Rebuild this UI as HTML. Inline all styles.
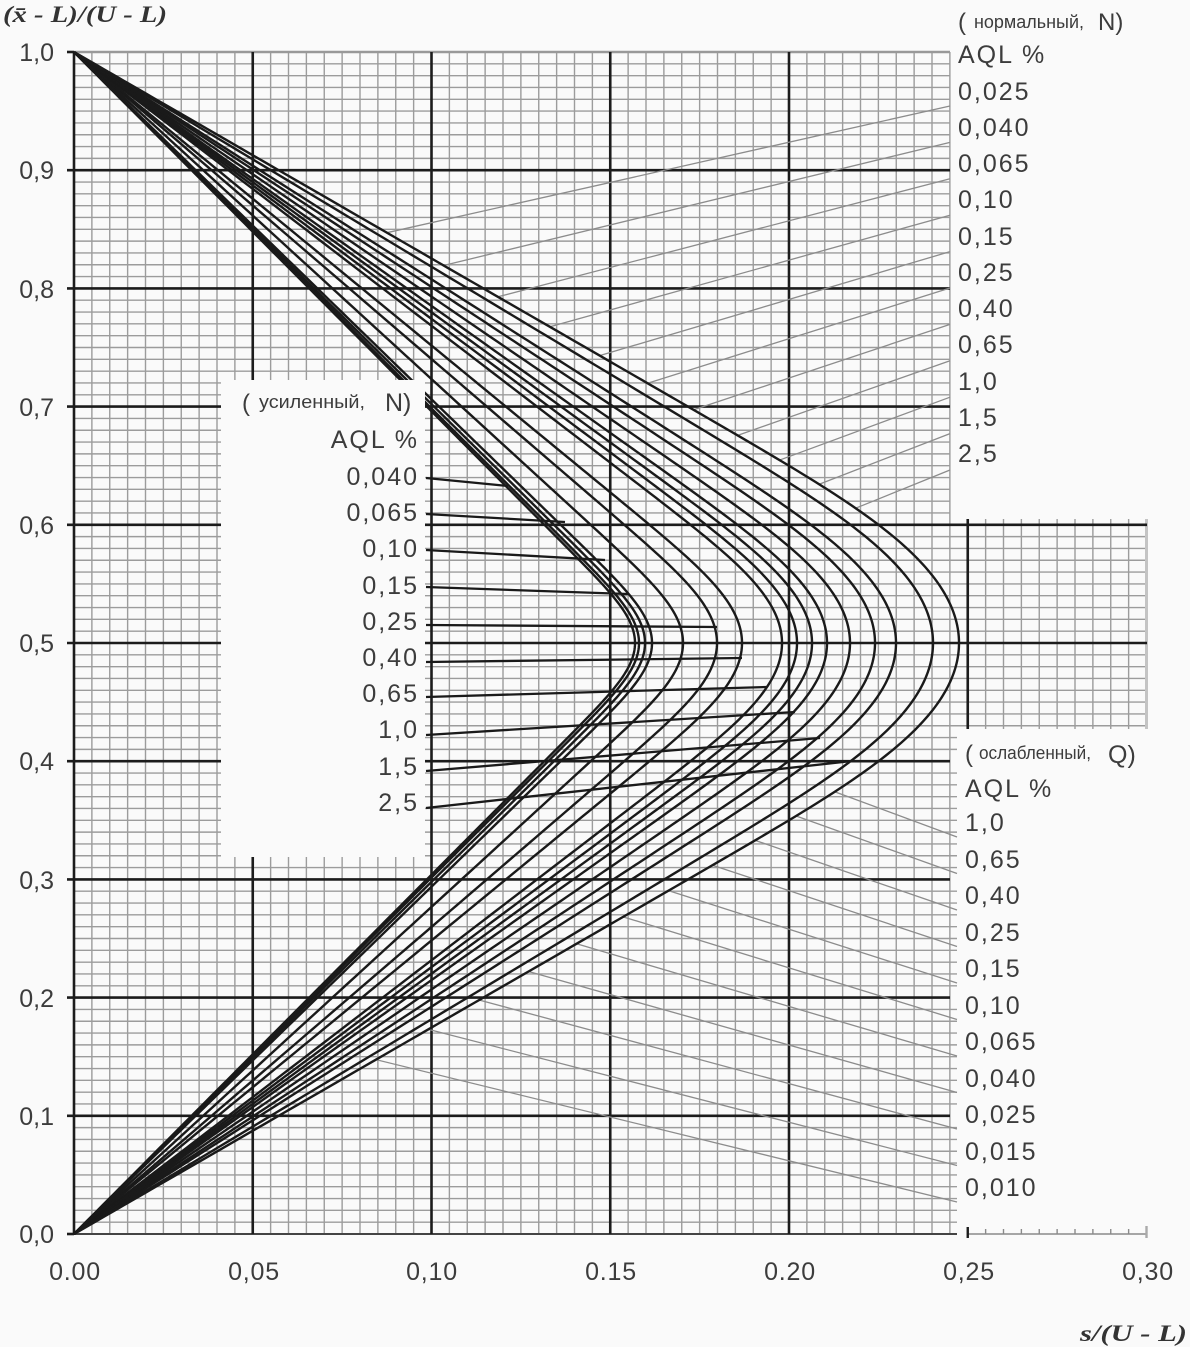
<!DOCTYPE html>
<html><head><meta charset="utf-8">
<style>
html,body{margin:0;padding:0;background:#fafafa;}
svg{display:block;}
text{font-family:"Liberation Sans","DejaVu Sans",sans-serif;fill:#3c3c3c;}
.v{font-size:25px;letter-spacing:2px;}
.t{font-size:25px;}
.ser{font-family:"Liberation Serif","DejaVu Serif",serif;font-style:italic;font-weight:bold;fill:#333;}
</style></head><body>
<svg id="c" width="1190" height="1347" viewBox="0 0 1190 1347" xmlns="http://www.w3.org/2000/svg">
<rect width="1190" height="1347" fill="#fafafa"/>
<g id="grid"></g>
<g id="gl"></g>
<g id="curves"></g>
<rect x="221" y="380" width="204" height="477" fill="#fafafa"/>
<g id="tl"></g>

<!-- titles -->
<text class="ser" x="3" y="22" font-size="23" textLength="164" lengthAdjust="spacingAndGlyphs">(x̄ -  L)/(U -  L)</text>
<text class="ser" x="1080" y="1341" font-size="23" textLength="107" lengthAdjust="spacingAndGlyphs">s/(U -  L)</text>

<!-- y tick labels -->
<g class="t" text-anchor="end">
<text x="54" y="61">1,0</text>
<text x="54" y="179">0,9</text>
<text x="54" y="298">0,8</text>
<text x="54" y="416">0,7</text>
<text x="54" y="534">0,6</text>
<text x="54" y="652">0,5</text>
<text x="54" y="770">0,4</text>
<text x="54" y="889">0,3</text>
<text x="54" y="1007">0,2</text>
<text x="54" y="1125">0,1</text>
<text x="54" y="1243">0,0</text>
</g>
<!-- x tick labels -->
<g class="t" text-anchor="middle" letter-spacing="0.8">
<text x="75" y="1280">0.00</text>
<text x="254" y="1280">0,05</text>
<text x="432" y="1280">0,10</text>
<text x="611" y="1280">0.15</text>
<text x="790" y="1280">0.20</text>
<text x="969" y="1280">0,25</text>
<text x="1148" y="1280">0,30</text>
</g>

<!-- normal labels -->
<text x="958" y="30" font-size="24">(</text>
<text x="974" y="28" font-size="18" textLength="110" lengthAdjust="spacingAndGlyphs">нормальный,</text>
<text x="1098" y="30" font-size="24">N)</text>
<text class="v" x="958" y="63" font-size="26">AQL %</text>
<g class="v">
<text x="958" y="100">0,025</text>
<text x="958" y="136">0,040</text>
<text x="958" y="172">0,065</text>
<text x="958" y="208">0,10</text>
<text x="958" y="245">0,15</text>
<text x="958" y="281">0,25</text>
<text x="958" y="317">0,40</text>
<text x="958" y="353">0,65</text>
<text x="958" y="390">1,0</text>
<text x="958" y="426">1,5</text>
<text x="958" y="462">2,5</text>
</g>

<!-- reduced labels -->
<text x="965" y="762" font-size="24">(</text>
<text x="979" y="759" font-size="18" textLength="112" lengthAdjust="spacingAndGlyphs">ослабленный,</text>
<text x="1108" y="763" font-size="25">Q)</text>
<text class="v" x="965" y="797" font-size="26">AQL %</text>
<g class="v">
<text x="965" y="831">1,0</text>
<text x="965" y="868">0,65</text>
<text x="965" y="904">0,40</text>
<text x="965" y="941">0,25</text>
<text x="965" y="977">0,15</text>
<text x="965" y="1014">0,10</text>
<text x="965" y="1050">0,065</text>
<text x="965" y="1087">0,040</text>
<text x="965" y="1123">0,025</text>
<text x="965" y="1160">0,015</text>
<text x="965" y="1196">0,010</text>
</g>

<!-- tightened labels -->
<text x="242" y="411" font-size="24">(</text>
<text x="259" y="408" font-size="18" textLength="106" lengthAdjust="spacingAndGlyphs">усиленный,</text>
<text x="385" y="411" font-size="25">N)</text>
<text class="v" x="419" y="448" font-size="26" text-anchor="end">AQL %</text>
<g class="v" text-anchor="end">
<text x="419" y="485">0,040</text>
<text x="419" y="521">0,065</text>
<text x="419" y="557">0,10</text>
<text x="419" y="594">0,15</text>
<text x="419" y="630">0,25</text>
<text x="419" y="666">0,40</text>
<text x="419" y="702">0,65</text>
<text x="419" y="738">1,0</text>
<text x="419" y="775">1,5</text>
<text x="419" y="811">2,5</text>
</g>
</svg>
<script>
(function(){
var NS="http://www.w3.org/2000/svg";
function el(par,tag,a){var e=document.createElementNS(NS,tag);for(var k in a)e.setAttribute(k,a[k]);par.appendChild(e);return e;}
function line(par,x1,y1,x2,y2,st,w){el(par,'line',{x1:x1.toFixed(2),y1:y1.toFixed(2),x2:x2.toFixed(2),y2:y2.toFixed(2),stroke:st,'stroke-width':w});}
var X0=74,SX=3575,Y0=1234,SY=1182;
function px(s){return X0+s*SX;}
function py(y){return Y0-y*SY;}
var g=document.getElementById('grid');
var minor='#9c9c9c',mw=1.4,maj='#1c1c1c',MW=2.6;
var i,j,x,y;
for(i=1;i<=49;i++){if(i%10==0)continue;x=px(i*0.005);line(g,x,52,x,1234,minor,mw);}
for(j=1;j<=99;j++){if(j%10==0)continue;y=py(j*0.01);var xe=(j>=43&&j<=60)?1147:(j<43?957:950);line(g,74,y,xe,y,minor,mw);}
for(i=1;i<=9;i++){x=px(0.25+i*0.005);line(g,x,519,x,729,minor,mw);}
line(g,px(0.30),519,px(0.30),729,'#c4c4c4',3);
line(g,px(0.25),519,px(0.25),729,maj,MW);
line(g,74,52,950,52,'#999',2.6);
line(g,74,1234,957,1234,'#444',2);
for(j=10;j<=90;j+=10){y=py(j*0.01);var xe2=(j==50||j==60)?1147:950;line(g,67,y,xe2,y,maj,MW);}
line(g,67,52,74,52,maj,MW);line(g,67,1234,74,1234,maj,MW);
line(g,74,52,74,1235,maj,MW);
for(i=1;i<=4;i++){x=px(i*0.05);line(g,x,52,x,1234,maj,MW);}
line(g,px(0.25),1234,px(0.30),1234,'#8a8a8a',1.6);
for(i=1;i<=9;i++){x=px(0.25+i*0.005);line(g,x,1229,x,1234,'#8a8a8a',1.4);}
line(g,px(0.25),1227,px(0.25),1238,maj,2.4);
line(g,px(0.30),1226,px(0.30),1238,'#aaa',2.4);

function erfc(xx){var z=Math.abs(xx),t=1/(1+0.5*z);
var r=t*Math.exp(-z*z-1.26551223+t*(1.00002368+t*(0.37409196+t*(0.09678418+t*(-0.18628806+t*(0.27886807+t*(-1.13520398+t*(1.48851587+t*(-0.82215223+t*0.17087277)))))))));
return xx>=0?r:2-r;}
function Q(xx){return 0.5*erfc(xx/Math.SQRT2);}
function Qinv(p){var lo=0,hi=12;for(var n=0;n<80;n++){var m=(lo+hi)/2;if(Q(m)>p)lo=m;else hi=m;}return (lo+hi)/2;}
var apex=[635,639,645,652,683,717,742,782,797,812,827,850,875,896,933,959];
var curves=[];
apex.forEach(function(a){
 var sm=(a-X0)/SX,h=0.5/sm;
 var p0=2*Q(h),k=Qinv(p0)*1.02;
 var lo=0.2,hi=4;
 for(var n=0;n<80;n++){var c=(lo+hi)/2;var gv=2*Q(c*h)-Q(c*k);if(gv>0)lo=c;else hi=c;}
 var c=(lo+hi)/2;
 curves.push({sm:sm,c:c,p:Q(c*k),k:k});
});
function Pf(cv,s,yy){return Q(cv.c*yy/s)+Q(cv.c*(1-yy)/s);}
function sOf(cv,yy){if(yy<=0)return 0;var lo=0,hi=cv.sm*1.0000001;
 for(var n=0;n<60;n++){var s=(lo+hi)/2;if(Pf(cv,s,yy)<cv.p)lo=s;else hi=s;}return (lo+hi)/2;}
var cg=document.getElementById('curves');
var N=160;
curves.forEach(function(cv){
 var ys=[],ss=[];
 for(var n=0;n<=N;n++){var yy=0.5*Math.sin(Math.PI/2*n/N);ys.push(yy);ss.push(sOf(cv,yy));}
 ss[N]=cv.sm;
 var d='M'+px(0).toFixed(2)+' '+py(0).toFixed(2);
 for(var n=1;n<=N;n++){d+=' L'+px(ss[n]).toFixed(2)+' '+py(ys[n]).toFixed(2);}
 for(var n=N-1;n>=0;n--){d+=' L'+px(ss[n]).toFixed(2)+' '+py(1-ys[n]).toFixed(2);}
 el(cg,'path',{d:d,fill:'none',stroke:'#1a1a1a','stroke-width':2.4,'stroke-linejoin':'round'});
});
var gl=document.getElementById('gl');
var outer=curves[curves.length-1];
function inside(cv,s,yy){if(s<=0)return true;return Pf(cv,s,yy)<cv.p;}
function leader(x0,y0,dY){
 var xx=x0,YY=y0;
 for(var t=0;t<3000;t++){var nx=xx-0.5,nY=YY+dY*0.5;
  if(inside(outer,(nx-X0)/SX,(Y0-nY)/SY))break;
  if(nx<80||nY<55||nY>1230)break;
  xx=nx;YY=nY;}
 line(gl,x0,y0,xx,YY,'#8c8c8c',1.3);
}
for(i=0;i<11;i++){leader(950,106+36.4*i,0.225+0.018*i);}
for(i=0;i<11;i++){leader(957,837+36.5*i,-(0.37-0.0125*i));}
var tl=document.getElementById('tl');
var T=[[478,508,486],[514,565,522],[550,605,560],[587,628,594],[625,717,627],[662,742,658],[697,767,687],[735,795,712],[771,820,738],[808,852,761]];
T.forEach(function(r){line(tl,426,r[0],r[1],r[2],'#1a1a1a',2.3);});
})();
</script>
</body></html>
